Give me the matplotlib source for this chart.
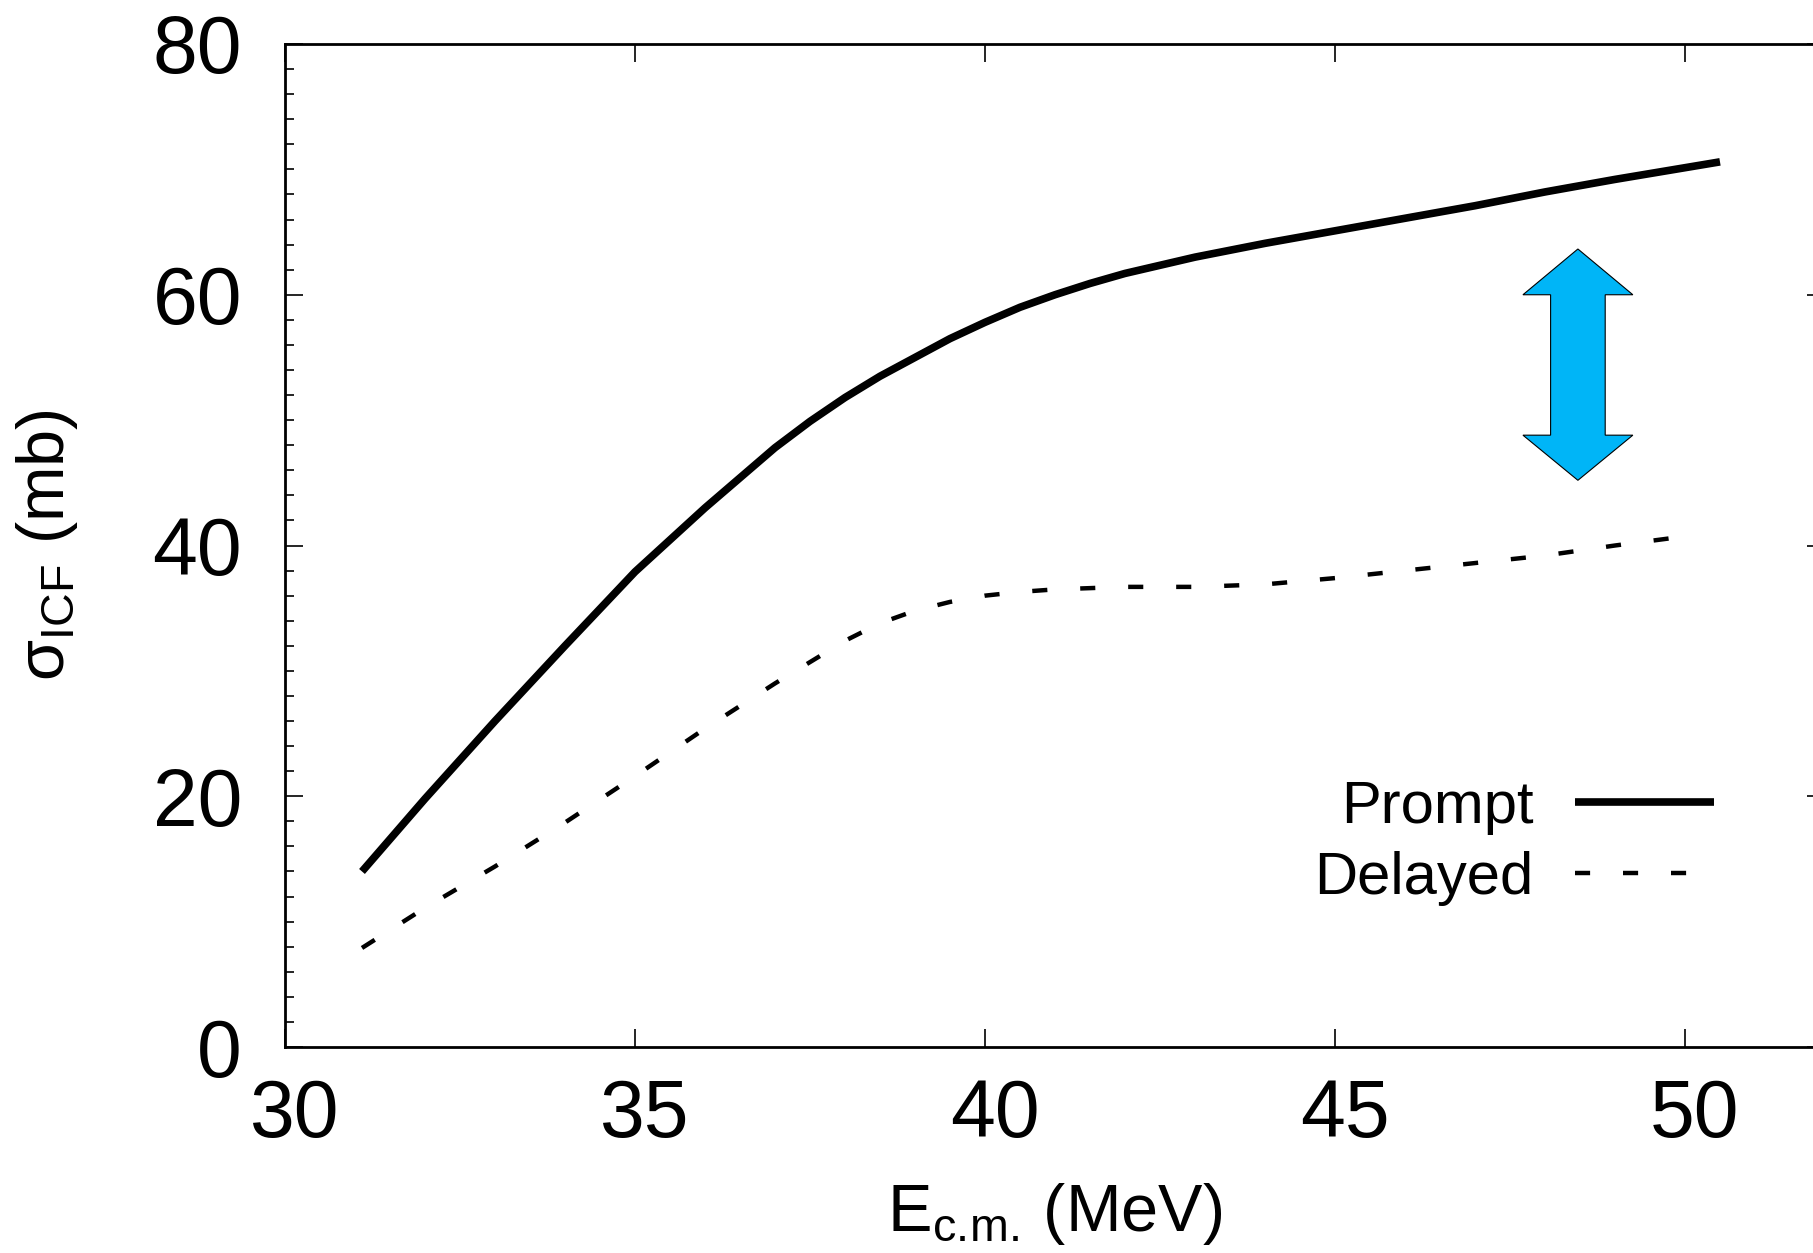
import matplotlib
matplotlib.use("Agg")
import matplotlib.pyplot as plt
from matplotlib.patches import Polygon
from matplotlib.ticker import MultipleLocator
from matplotlib.transforms import ScaledTranslation

plt.rcParams['font.family'] = ['Liberation Sans', 'DejaVu Sans']
plt.rcParams['mathtext.fontset'] = 'custom'
plt.rcParams['mathtext.rm'] = 'Liberation Sans'
plt.rcParams['mathtext.it'] = 'Liberation Sans'
plt.rcParams['mathtext.bf'] = 'Liberation Sans:bold'

# ---- data ----
prompt_x = [31.1, 32, 33, 34, 35, 36, 37, 37.5, 38, 38.5, 39, 39.5, 40, 40.5, 41, 41.5,
            42, 43, 44, 45, 46, 47, 48, 49, 50.5]
prompt_y = [14.0, 19.8, 26.0, 32.0, 37.9, 43.0, 47.8, 49.9, 51.8, 53.5, 55.0, 56.5, 57.8,
            59.0, 60.0, 60.9, 61.7, 63.0, 64.1, 65.1, 66.1, 67.1, 68.2, 69.2, 70.6]

delayed_x = [31.1, 32, 33, 34, 35, 36, 37, 38, 38.5, 39, 39.5, 40, 40.5, 41, 42, 43, 44,
             45, 46, 47, 48, 49, 50.1]
delayed_y = [7.9, 11.1, 14.4, 17.9, 21.6, 25.4, 29.0, 32.4, 33.8, 34.8, 35.5, 36.0, 36.3,
             36.5, 36.7, 36.7, 36.9, 37.4, 38.0, 38.6, 39.2, 40.0, 40.8]

x_ticks = [30, 35, 40, 45, 50]
y_ticks = [0, 20, 40, 60, 80]

# ---- figure ----
fig = plt.figure(figsize=(18.13, 12.53), dpi=100)
W, H = 1813, 1253
ax_l, ax_r, ax_t, ax_b = 285, 1825, 44, 1047
ax = fig.add_axes([ax_l / W, 1 - ax_b / H, (ax_r - ax_l) / W, (ax_b - ax_t) / H])

ax.plot(prompt_x, prompt_y, color='black', lw=5.5, solid_capstyle='butt',
        solid_joinstyle='round', label='Prompt')
ax.plot(delayed_x, delayed_y, color='black', lw=3.2, dashes=(3.4, 7.4),
        dash_capstyle='butt', label='Delayed')

ax.set_xlim(30, 52)
ax.set_ylim(0, 80)
ax.set_xticks(x_ticks)
ax.set_yticks(y_ticks)
ax.yaxis.set_minor_locator(MultipleLocator(2))

for sp in ax.spines.values():
    sp.set_linewidth(2.0)

ax.tick_params(axis='both', which='both', direction='in', top=True, right=True,
               width=1.2, color='black')
ax.tick_params(axis='both', which='major', length=13)
ax.tick_params(axis='y', which='minor', length=6.5)
ax.tick_params(axis='x', which='major', labelsize=58, pad=22)
ax.tick_params(axis='y', which='major', labelsize=58, pad=31)

off = ScaledTranslation(10 / 100, 0, fig.dpi_scale_trans)
for lab in ax.get_xticklabels():
    lab.set_transform(lab.get_transform() + off)

ax.set_xlabel(r'E$_{\mathrm{c.\!m.\!}}$ (MeV)', fontsize=48)
ax.set_ylabel(r'σ$_{\mathrm{ICF}}$ (mb)', fontsize=48)
ax.xaxis.set_label_coords(0.5, -0.134)
ax.yaxis.set_label_coords(-0.133, 0.5)

# ---- blue double arrow annotation ----
arr_cx, arr_top, arr_head_top, arr_head_bot, arr_bot = 48.47, 63.65, 60.0, 48.8, 45.2
arr_head_hw, arr_shaft_hw = 0.785, 0.39
verts = [
    (arr_cx, arr_top),
    (arr_cx + arr_head_hw, arr_head_top),
    (arr_cx + arr_shaft_hw, arr_head_top),
    (arr_cx + arr_shaft_hw, arr_head_bot),
    (arr_cx + arr_head_hw, arr_head_bot),
    (arr_cx, arr_bot),
    (arr_cx - arr_head_hw, arr_head_bot),
    (arr_cx - arr_shaft_hw, arr_head_bot),
    (arr_cx - arr_shaft_hw, arr_head_top),
    (arr_cx - arr_head_hw, arr_head_top),
]
ax.add_patch(Polygon(verts, closed=True, facecolor='#00B5F7', edgecolor='black',
                     lw=0.8, zorder=3))

# ---- legend (gnuplot style: text left of sample, right aligned) ----
leg = ax.legend(loc='upper right', bbox_to_anchor=(1714 / W, 1 - 780 / H),
                bbox_transform=fig.transFigure, frameon=False, markerfirst=False,
                fontsize=43, handlelength=2.33, handletextpad=0.69,
                labelspacing=0.26, borderpad=0, borderaxespad=0)

fig.savefig('out.png', dpi=100)
